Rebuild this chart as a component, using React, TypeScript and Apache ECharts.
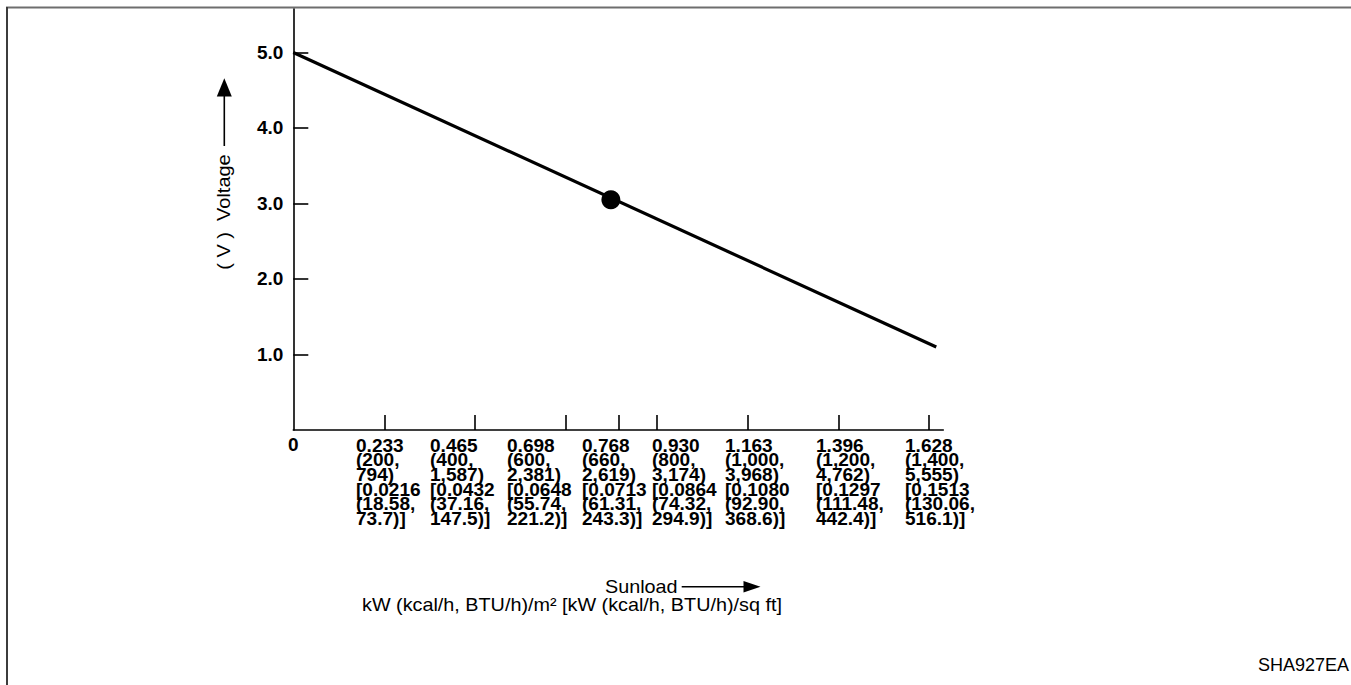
import React, { useEffect, useRef } from "react";
import * as echarts from "echarts";

// ---- data ----
// Voltage line (sunload in axis units, voltage in V)
const lineSunload = [0, 1.646];
const lineVoltage = [5.0, 1.1];
// highlighted operating point
const pointSunload = [0.813];
const pointVoltage = [3.05];
// y axis ticks / labels
const yTickValues = [1, 2, 3, 4, 5];
// x axis tick marks (the 0.768 tick is drawn off-scale in the source artwork)
const xTickValues = [0.233, 0.465, 0.698, 0.833, 0.93, 1.163, 1.396, 1.628];
const xZeroLabel = [0];
// x tick label rows
const kwLabels = ["0.233", "0.465", "0.698", "0.768", "0.930", "1.163", "1.396", "1.628"];
const kcalLabels = ["(200,", "(400,", "(600,", "(660,", "(800,", "(1,000,", "(1,200,", "(1,400,"];
const btuLabels = ["794)", "1,587)", "2,381)", "2,619)", "3,174)", "3,968)", "4,762)", "5,555)"];
const kwSqftLabels = ["[0.0216", "[0.0432", "[0.0648", "[0.0713", "[0.0864", "[0.1080", "[0.1297", "[0.1513"];
const kcalSqftLabels = ["(18.58,", "(37.16,", "(55.74,", "(61.31,", "(74.32,", "(92.90,", "(111.48,", "(130.06,"];
const btuSqftLabels = ["73.7)]", "147.5)]", "221.2)]", "243.3)]", "294.9)]", "368.6)]", "442.4)]", "516.1)]"];

const yTitle = "( V )  Voltage";
const xTitle = "Sunload";
const xUnits = "kW (kcal/h, BTU/h)/m\u00B2 [kW (kcal/h, BTU/h)/sq ft]";
const figureId = "SHA927EA";

// ---- layout ----
const FONT = "Liberation Sans, Arial, Helvetica, sans-serif";
const labelColumnX = [356, 430, 507, 582, 652, 725, 816, 905];

export default function App() {
  const ref = useRef<HTMLDivElement>(null);

  useEffect(() => {
    if (!ref.current) return;
    const chart = echarts.init(ref.current, null, { renderer: "svg" });

    const labelTexts = kwLabels.map((_, i) =>
      [kwLabels[i], kcalLabels[i], btuLabels[i], kwSqftLabels[i], kcalSqftLabels[i], btuSqftLabels[i]].join("\n")
    );

    const graphic: any[] = [
      // frame
      { type: "line", shape: { x1: 6, y1: 7.5, x2: 1351, y2: 7.5 }, style: { stroke: "#6e6e6e", lineWidth: 2 } },
      { type: "line", shape: { x1: 7, y1: 7, x2: 7, y2: 685 }, style: { stroke: "#3c3c3c", lineWidth: 2 } },
      // x tick labels
      ...labelTexts.map((t, i) => ({
        type: "text",
        x: labelColumnX[i],
        y: 438.2,
        scaleX: 1.06,
        style: {
          text: t,
          fontFamily: FONT,
          fontSize: 18,
          fontWeight: "bold",
          lineHeight: 14.6,
          fill: "#000",
          align: "left",
          verticalAlign: "top",
        },
      })),
      // y title
      {
        type: "text",
        x: 223.5,
        y: 212,
        rotation: Math.PI / 2,
        scaleX: 1.11,
        style: {
          text: yTitle,
          fontFamily: FONT,
          fontSize: 18,
          fill: "#000",
          align: "center",
          verticalAlign: "middle",
        },
      },
      // y arrow
      { type: "line", shape: { x1: 224.3, y1: 146, x2: 224.3, y2: 94 }, style: { stroke: "#000", lineWidth: 1.6 } },
      {
        type: "polygon",
        shape: { points: [[224.3, 78.3], [216.8, 96.5], [231.8, 96.5]] },
        style: { fill: "#000" },
      },
      // x title
      {
        type: "text",
        x: 605,
        y: 587,
        scaleX: 1.1,
        style: { text: xTitle, fontFamily: FONT, fontSize: 18, fill: "#000", align: "left", verticalAlign: "middle" },
      },
      { type: "line", shape: { x1: 681.7, y1: 586.7, x2: 746, y2: 586.7 }, style: { stroke: "#000", lineWidth: 1.6 } },
      {
        type: "polygon",
        shape: { points: [[760.5, 586.7], [743.5, 581], [743.5, 592.4]] },
        style: { fill: "#000" },
      },
      {
        type: "text",
        x: 362,
        y: 604.5,
        scaleX: 1.1,
        style: { text: xUnits, fontFamily: FONT, fontSize: 18, fill: "#000", align: "left", verticalAlign: "middle" },
      },
      {
        type: "text",
        x: 1349,
        y: 665,
        style: { text: figureId, fontFamily: FONT, fontSize: 18, fill: "#000", align: "right", verticalAlign: "middle" },
      },
    ];

    chart.setOption({
      animation: false,
      backgroundColor: "#fff",
      grid: { left: 293.3, top: 9, width: 650, height: 421, containLabel: false, outerBoundsMode: "none" } as any,
      xAxis: {
        type: "value",
        min: 0,
        max: 1.664,
        axisLine: { show: true, onZero: false, lineStyle: { color: "#000", width: 1.6 } },
        axisTick: {
          show: true,
          inside: true,
          length: 15,
          customValues: xTickValues,
          lineStyle: { color: "#000", width: 1.6 },
        },
        axisLabel: {
          show: true,
          customValues: xZeroLabel,
          formatter: (v: number) => String(v),
          margin: 5,
          color: "#000",
          fontFamily: FONT,
          fontSize: 19,
          fontWeight: "bold",
        },
        splitLine: { show: false },
      } as any,
      yAxis: {
        type: "value",
        min: 0,
        max: 5.576,
        axisLine: { show: true, onZero: false, lineStyle: { color: "#000", width: 1.6 } },
        axisTick: {
          show: true,
          inside: true,
          length: 15,
          customValues: yTickValues,
          lineStyle: { color: "#000", width: 1.6 },
        },
        axisLabel: {
          show: true,
          customValues: yTickValues,
          formatter: (v: number) => v.toFixed(1),
          margin: 10,
          color: "#000",
          fontFamily: FONT,
          fontSize: 19,
          fontWeight: "bold",
        },
        splitLine: { show: false },
      } as any,
      series: [
        {
          type: "line",
          data: lineSunload.map((x, i) => [x, lineVoltage[i]]),
          showSymbol: false,
          lineStyle: { color: "#000", width: 3.2 },
          itemStyle: { color: "#000" },
          silent: true,
        },
        {
          type: "scatter",
          data: pointSunload.map((x, i) => [x, pointVoltage[i]]),
          symbol: "circle",
          symbolSize: 19,
          itemStyle: { color: "#000", opacity: 1 },
          silent: true,
        },
      ],
      graphic,
    });

    return () => chart.dispose();
  }, []);

  return (
    <div
      ref={ref}
      style={{ position: "fixed", left: 0, top: 0, width: 1351, height: 685, background: "#fff" }}
    />
  );
}
